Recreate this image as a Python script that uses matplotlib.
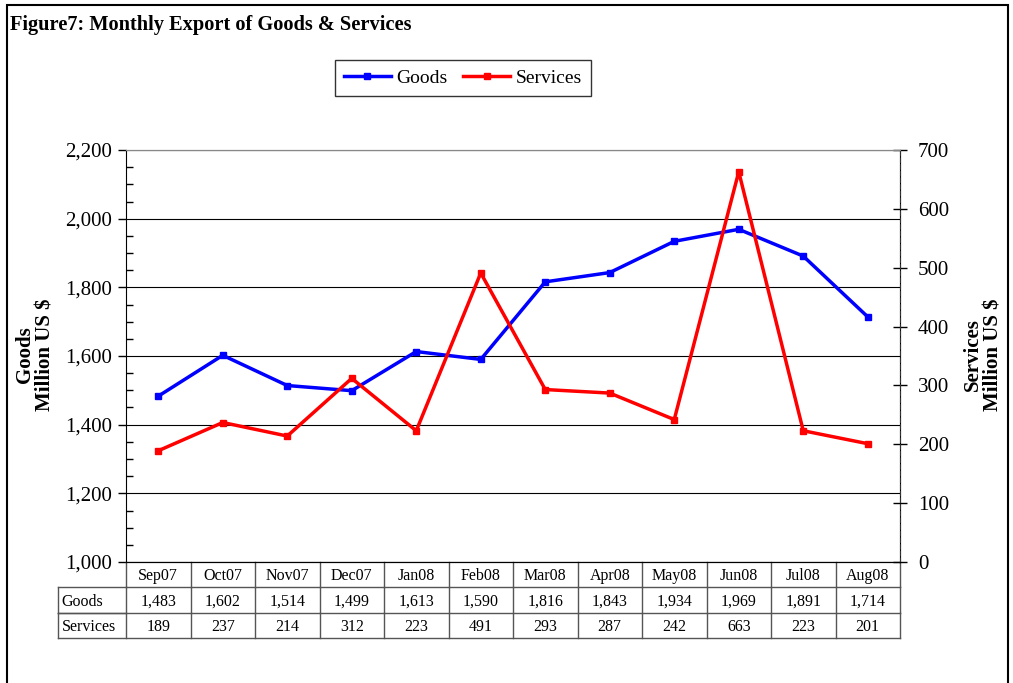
import matplotlib
matplotlib.use("Agg")
import matplotlib.pyplot as plt
from matplotlib.patches import Rectangle
from matplotlib.ticker import MultipleLocator, FuncFormatter
import matplotlib.transforms as mtransforms

plt.rcParams['font.family'] = ['Liberation Serif', 'DejaVu Serif']

months = ["Sep07", "Oct07", "Nov07", "Dec07", "Jan08", "Feb08",
          "Mar08", "Apr08", "May08", "Jun08", "Jul08", "Aug08"]
goods = [1483, 1602, 1514, 1499, 1613, 1590, 1816, 1843, 1934, 1969, 1891, 1714]
services = [189, 237, 214, 312, 223, 491, 293, 287, 242, 663, 223, 201]
goods_text = ["1,483", "1,602", "1,514", "1,499", "1,613", "1,590",
              "1,816", "1,843", "1,934", "1,969", "1,891", "1,714"]

W, H = 1013, 683
fig = plt.figure(figsize=(W / 100, H / 100), dpi=100)

# outer frame
fig.patches.append(Rectangle((7 / W, -0.01), 1001 / W, 1 - 5 / H + 0.01,
                             transform=fig.transFigure, fill=False,
                             edgecolor='black', linewidth=1.5))

fig.text(10 / W, 1 - 25 / H, "Figure7: Monthly Export of Goods & Services",
         fontsize=14.7, fontweight='bold', ha='left', va='center')

ax = fig.add_axes([126 / W, 1 - 562 / H, 774 / W, 412 / H])
ax2 = ax.twinx()

x = list(range(len(months)))
lg, = ax.plot(x, goods, color='#0000ff', linewidth=2.5, marker='s',
              markersize=4, label='Goods', zorder=5)
ls, = ax2.plot(x, services, color='#ff0000', linewidth=2.5, marker='s',
               markersize=4, label='Services', zorder=5)

ax.set_xlim(-0.5, len(months) - 0.5)
ax.set_ylim(1000, 2200)
ax2.set_ylim(0, 700)

ax.yaxis.set_major_locator(MultipleLocator(200))
ax.yaxis.set_minor_locator(MultipleLocator(50))
ax.yaxis.set_major_formatter(FuncFormatter(lambda v, p: f"{int(v):,}"))
ax.tick_params(axis='y', which='major', direction='out', length=6,
               width=1, labelsize=15, pad=4)
ax.tick_params(axis='y', which='minor', direction='in', length=5, width=1)
ax.set_xticks([])
ax.grid(axis='y', which='major', color='black', linewidth=0.8)
ax.set_axisbelow(True)

ax2.yaxis.set_major_locator(MultipleLocator(100))
ax2.tick_params(axis='y', direction='inout', length=10, width=1,
                labelsize=15, pad=8)

for a in (ax, ax2):
    a.spines['top'].set_color('#888888')
    a.spines['bottom'].set_color('black')
ax2.spines['right'].set_linestyle((0, (4, 2)))
ax2.spines['right'].set_color('#333333')
ax2.spines['left'].set_visible(False)

fig.text(35 / W, 1 - 355 / H, "Goods\nMillion US $", rotation=90,
         fontsize=15, fontweight='bold', ha='center', va='center',
         multialignment='center', linespacing=1.05)
fig.text(983 / W, 1 - 355 / H, "Services\nMillion US $", rotation=90,
         fontsize=15, fontweight='bold', ha='center', va='center',
         multialignment='center', linespacing=1.05)

# data table below the axes
trans = mtransforms.blended_transform_factory(ax.transData, ax.transAxes)
row_h = 25.3 / 412
label_left = -0.5 - 68 / 64.5
tcolor = '#555555'
rows = [("", months), ("Goods", goods_text), ("Services", [str(v) for v in services])]
for r, (name, vals) in enumerate(rows):
    y_top = -r * row_h
    y_bot = -(r + 1) * row_h
    y_mid = (y_top + y_bot) / 2 - 0.004
    x0 = -0.5 if r == 0 else label_left
    ax.plot([x0, len(months) - 0.5], [y_bot, y_bot], transform=trans,
            color=tcolor, linewidth=1, clip_on=False)
    if r > 0:
        ax.plot([label_left, label_left], [y_top, y_bot], transform=trans,
                color=tcolor, linewidth=1, clip_on=False)
        ax.plot([label_left, -0.5], [y_top, y_top], transform=trans,
                color=tcolor, linewidth=1, clip_on=False)
        ax.text(label_left + 0.06, y_mid, name, transform=trans, ha='left',
                va='center', fontsize=11.5)
    for i in range(len(months) + 1):
        ax.plot([i - 0.5, i - 0.5], [y_top, y_bot], transform=trans,
                color=tcolor, linewidth=1, clip_on=False)
    for i, v in enumerate(vals):
        ax.text(i, y_mid, v, transform=trans, ha='center', va='center',
                fontsize=11.5)

leg = fig.legend(handles=[lg, ls], loc='center', ncol=2,
                 bbox_to_anchor=(463 / W, 1 - 78 / H), fontsize=14,
                 frameon=True, fancybox=False, edgecolor='black',
                 handlelength=2.4, handletextpad=0.3, columnspacing=0.8,
                 borderpad=0.45)
leg.get_frame().set_linewidth(1)

fig.savefig("out.png", dpi=100)
